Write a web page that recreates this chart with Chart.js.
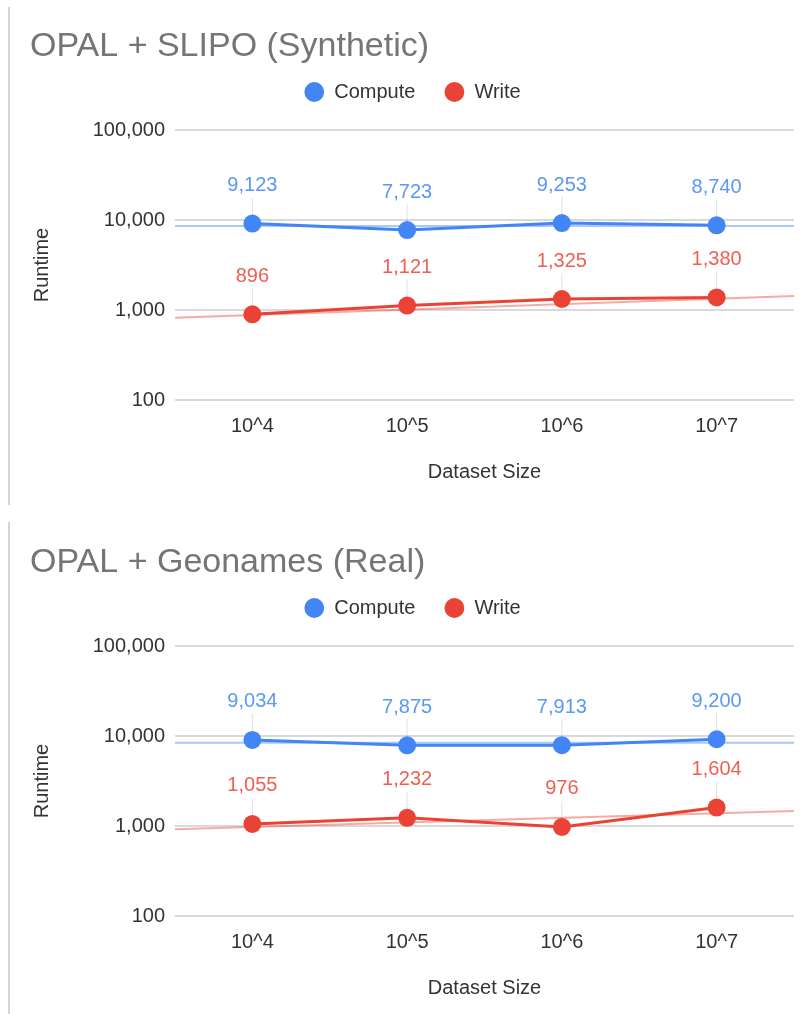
<!DOCTYPE html>
<html>
<head>
<meta charset="utf-8">
<script src="https://cdn.jsdelivr.net/npm/chart.js@4.4.1/dist/chart.umd.min.js"></script>
<style>
  html, body { margin: 0; padding: 0; background: #fff; overflow: hidden; }
  .edge { position: absolute; left: 8px; width: 2px; background: #d4d4d4; }
  .box { position: absolute; left: 10px; width: 793px; height: 505px; }
</style>
</head>
<body>
<div class="edge" style="top:7px;height:498px"></div>
<div class="edge" style="top:522px;height:492px"></div>
<div class="box" style="top:0px"><canvas id="chart1"></canvas></div>
<div class="box" style="top:516px"><canvas id="chart2"></canvas></div>
<script>
// categorias y valores
const categories = ['10^4', '10^5', '10^6', '10^7'];
const yTicks = [100, 1000, 10000, 100000];

const computeSynthetic = [9123, 7723, 9253, 8740];
const writeSynthetic = [896, 1121, 1325, 1380];
const computeReal = [9034, 7875, 7913, 9200];
const writeReal = [1055, 1232, 976, 1604];

// líneas de tendencia (extremos izquierdo y derecho estimados)
const trendComputeSynthetic = [8600, 8600];
const trendWriteSynthetic = [820, 1430];
const trendComputeReal = [8400, 8400];
const trendWriteReal = [920, 1470];

const BLUE = '#4285F4';
const RED = '#EA4335';
const FONT = "'Liberation Sans', Arial, sans-serif";

// etiquetas de datos con su línea guía
const dataLabels = {
  id: 'dataLabels',
  afterDatasetsDraw(chart) {
    const ctx = chart.ctx;
    chart.data.datasets.forEach((ds, i) => {
      if (!ds.labelColor) return;
      const meta = chart.getDatasetMeta(i);
      meta.data.forEach((pt, j) => {
        ctx.save();
        ctx.strokeStyle = 'rgba(0,0,0,0.12)';
        ctx.lineWidth = 1;
        ctx.beginPath();
        ctx.moveTo(pt.x, pt.y - 26);
        ctx.lineTo(pt.x, pt.y - 9);
        ctx.stroke();
        ctx.fillStyle = ds.labelColor;
        ctx.font = '20px ' + FONT;
        ctx.textAlign = 'center';
        ctx.textBaseline = 'middle';
        ctx.fillText(ds.data[j].y.toLocaleString('en-US'), pt.x, pt.y - 38);
        ctx.restore();
      });
    });
  }
};

const legendHeight = {
  id: 'legendHeight',
  beforeInit(chart) {
    const fit = chart.legend.fit;
    chart.legend.fit = function() {
      fit.bind(chart.legend)();
      this.height = 77;
    };
  }
};

function makeChart(id, title, compute, write, trendC, trendW) {
  const ctx = document.getElementById(id).getContext('2d');
  return new Chart(ctx, {
    type: 'line',
    data: {
      datasets: [
        {
          label: 'Compute',
          data: compute.map((v, i) => ({ x: i, y: v })),
          borderColor: BLUE,
          backgroundColor: BLUE,
          borderWidth: 3,
          pointRadius: 9,
          pointHoverRadius: 9,
          pointBorderWidth: 0,
          labelColor: '#5b97f5'
        },
        {
          label: 'Write',
          data: write.map((v, i) => ({ x: i, y: v })),
          borderColor: RED,
          backgroundColor: RED,
          borderWidth: 3,
          pointRadius: 9,
          pointHoverRadius: 9,
          pointBorderWidth: 0,
          labelColor: '#ee5f54'
        },
        {
          label: 'trendC',
          data: [{ x: -0.5, y: trendC[0] }, { x: 3.5, y: trendC[1] }],
          borderColor: 'rgba(66,133,244,0.45)',
          borderWidth: 2,
          pointRadius: 0
        },
        {
          label: 'trendW',
          data: [{ x: -0.5, y: trendW[0] }, { x: 3.5, y: trendW[1] }],
          borderColor: 'rgba(234,67,53,0.45)',
          borderWidth: 2,
          pointRadius: 0
        }
      ]
    },
    options: {
      responsive: true,
      maintainAspectRatio: false,
      animation: false,
      layout: { padding: { left: 20, right: 8, top: 0, bottom: 0 } },
      plugins: {
        title: {
          display: true,
          text: title,
          align: 'start',
          color: '#757575',
          font: { family: FONT, size: 34, weight: 'normal' },
          padding: { top: 26, bottom: -13.8 }
        },
        legend: {
          labels: {
            usePointStyle: true,
            pointStyle: 'circle',
            boxWidth: 20,
            boxHeight: 14,
            padding: 29,
            color: '#333',
            font: { family: FONT, size: 20 },
            filter: item => item.text === 'Compute' || item.text === 'Write'
          }
        },
        tooltip: { enabled: false }
      },
      scales: {
        x: {
          type: 'linear',
          min: -0.5,
          max: 3.5,
          afterBuildTicks: scale => { scale.ticks = categories.map((c, i) => ({ value: i })); },
          afterFit: scale => { scale.height = 105; },
          ticks: {
            callback: v => categories[v],
            color: '#333',
            font: { family: FONT, size: 20 },
            padding: 6,
            maxRotation: 0
          },
          grid: { display: false },
          border: { display: false },
          title: {
            display: true,
            text: 'Dataset Size',
            color: '#333',
            font: { family: FONT, size: 20 },
            padding: { top: 0, bottom: 21 }
          }
        },
        y: {
          type: 'logarithmic',
          min: 100,
          max: 100000,
          afterBuildTicks: scale => { scale.ticks = yTicks.map(v => ({ value: v, major: true })); },
          afterFit: scale => { scale.width = 145; },
          ticks: {
            callback: v => v.toLocaleString('en-US'),
            color: '#333',
            font: { family: FONT, size: 20 },
            padding: 10
          },
          grid: { color: '#d9d9d9', lineWidth: 2, drawTicks: false },
          border: { display: false },
          title: {
            display: true,
            text: 'Runtime',
            color: '#333',
            font: { family: FONT, size: 20 },
            padding: { top: 0, bottom: 0 }
          }
        }
      }
    },
    plugins: [dataLabels, legendHeight]
  });
}

makeChart('chart1', 'OPAL + SLIPO (Synthetic)', computeSynthetic, writeSynthetic, trendComputeSynthetic, trendWriteSynthetic);
makeChart('chart2', 'OPAL + Geonames (Real)', computeReal, writeReal, trendComputeReal, trendWriteReal);
</script>
</body>
</html>
